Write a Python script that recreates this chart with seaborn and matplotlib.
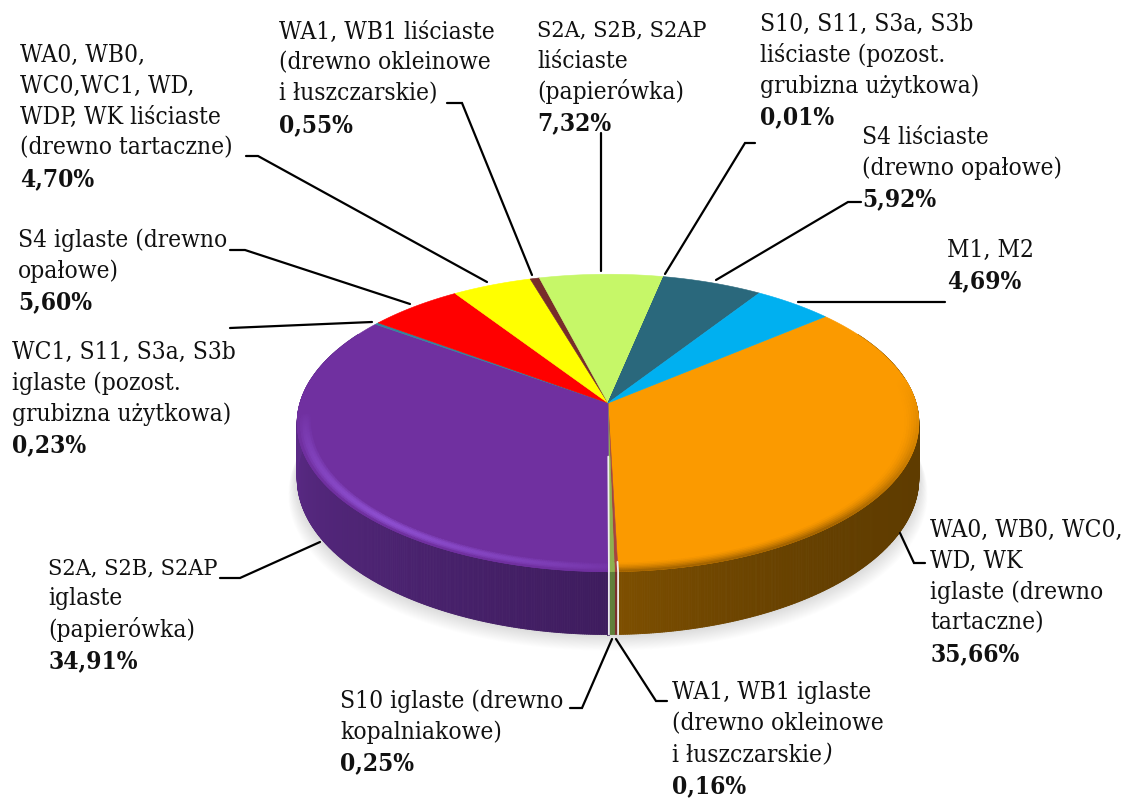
import matplotlib
matplotlib.use("Agg")
import matplotlib.pyplot as plt
import numpy as np
import seaborn as sns
from matplotlib.collections import PolyCollection
from matplotlib.colors import to_rgb

# slices, clockwise from the big orange one
values = [35.66, 0.16, 0.25, 34.91, 0.23, 5.60, 4.70, 0.55, 7.32, 0.01, 5.92, 4.69]
value_labels = ["35,66%", "0,16%", "0,25%", "34,91%", "0,23%", "5,60%",
                "4,70%", "0,55%", "7,32%", "0,01%", "5,92%", "4,69%"]
names = [
    ["WA0, WB0, WC0,", "WD, WK", "iglaste (drewno", "tartaczne)"],
    ["WA1, WB1 iglaste", "(drewno okleinowe", "i łuszczarskie"],
    ["S10 iglaste (drewno", "kopalniakowe)"],
    ["S2A, S2B, S2AP", "iglaste", "(papierówka)"],
    ["WC1, S11, S3a, S3b", "iglaste (pozost.", "grubizna użytkowa)"],
    ["S4 iglaste (drewno", "opałowe)"],
    ["WA0, WB0,", "WC0,WC1, WD,", "WDP, WK liściaste", "(drewno tartaczne)"],
    ["WA1, WB1 liściaste", "(drewno okleinowe", "i łuszczarskie)"],
    ["S2A, S2B, S2AP", "liściaste", "(papierówka)"],
    ["S10, S11, S3a, S3b", "liściaste (pozost.", "grubizna użytkowa)"],
    ["S4 liściaste", "(drewno opałowe)"],
    ["M1, M2"],
]
colors = ["#fb9a00", "#a5443f", "#8eb050", "#7030a0", "#31859c", "#ff0000",
          "#ffff00", "#772c2a", "#c6f768", "#2b6477", "#2a687c", "#00b0f0"]
wall_right = ["#5f3c00", "#7a302c", "#5f7f3a", "#3e1c5e", "#20606f", "#900000",
              "#909000", "#401515", "#70903a", "#1a3c48", "#1a3c48", "#006a90"]
wall_left = ["#7f5000", "#7a302c", "#5f7f3a", "#5c2b88", "#20606f", "#900000",
             "#909000", "#401515", "#70903a", "#1a3c48", "#1a3c48", "#006a90"]
bevel = ["#a56500", "#a5443f", "#8eb050", "#8f50d2", "#31859c", "#ff0000",
         "#ffff00", "#772c2a", "#c6f768", "#2b6477", "#2a687c", "#00b0f0"]

# pie geometry in pixels
cx, cy = 608, 403
rx, ry = 308, 146
persp = 0.134
depth = 54.5
start_angle = 50.0

# label positions: left edge, centre of first line
label_xy = [(930, 530), (672, 693), (340, 701), (48, 568), (12, 352), (18, 240),
            (20, 55), (279, 32), (537, 30), (760, 24), (862, 137), (947, 250)]
line_pitch = 31

leaders = [
    [(900, 533), (914, 563), (925, 563)],
    [(616, 639), (656, 701), (667, 701)],
    [(612, 639), (582, 708), (570, 708)],
    [(320, 542), (240, 578), (220, 578)],
    [(372, 322), (230, 328)],
    [(410, 304), (245, 250), (230, 250)],
    [(487, 282), (258, 156), (246, 156)],
    [(532, 275), (462, 103), (447, 103)],
    [(601, 271), (601, 133)],
    [(665, 274), (745, 143), (755, 143)],
    [(716, 280), (848, 202), (861, 202)],
    [(798, 302), (945, 302)],
]


def project(r, theta, z=0.0):
    t = np.radians(theta)
    u, v = r * np.sin(t), r * np.cos(t)
    w = 1 + persp * v
    return cx + rx * u / w, cy + (-ry * v + depth * z) / w


def blend(a, b, f):
    a, b = np.array(to_rgb(a)), np.array(to_rgb(b))
    return tuple(a + (b - a) * f)


sns.set_theme(style="white")
plt.rcParams["font.family"] = ["DejaVu Serif"]

fig = plt.figure(figsize=(11.24, 7.98), dpi=100)
ax = fig.add_axes([0, 0, 1, 1])
ax.set_xlim(0, 1124)
ax.set_ylim(798, 0)
ax.axis("off")

edges = start_angle + np.concatenate([[0], np.cumsum(values)]) * 3.6

# soft shadow under the pie
ring = np.linspace(0, 360, 361)
for i in range(18, 0, -1):
    sx, sy = project(1.0, ring, 1.0)
    sx = cx + (sx - cx) * (1 + i * 0.0016)
    sy = sy + i * 0.9
    ax.fill(sx, sy, color="#000000", alpha=0.007, lw=0, zorder=1)

# side wall, one thin quad per step
wall_polys, wall_cols = [], []
for i, val in enumerate(values):
    n = max(2, int(val * 12))
    th = np.linspace(edges[i], edges[i + 1], n)
    for a, b in zip(th[:-1], th[1:]):
        mid = ((a + b) / 2) % 360
        if not 60 < mid < 300:
            continue
        pts = [project(1, a), project(1, b), project(1, b, 1), project(1, a, 1)]
        wall_polys.append(pts)
        if mid < 180:
            f = np.clip((mid - 90) / 90, 0, 1) ** 3
        else:
            f = np.clip((mid - 180) / 90, 0, 1)
        wall_cols.append(blend(wall_right[i], wall_left[i], f))
ax.add_collection(PolyCollection(wall_polys, facecolors=wall_cols, edgecolors=wall_cols,
                                 linewidths=0.6, zorder=2))

# top face
for i in range(len(values)):
    th = np.linspace(edges[i], edges[i + 1], max(2, int(values[i] * 6)))
    x, y = project(1, th)
    ax.fill(np.r_[cx, x], np.r_[cy, y], color=colors[i], lw=0.4, zorder=3)

# rounded edge between top face and wall
radii = np.linspace(0.95, 1.0, 8)
bev_polys, bev_cols = [], []
for i, val in enumerate(values):
    n = max(2, int(val * 12))
    th = np.linspace(edges[i], edges[i + 1], n)
    for a, b in zip(th[:-1], th[1:]):
        mid = ((a + b) / 2) % 360
        if not 80 < mid < 280:
            continue
        fade = np.clip(min(mid - 80, 280 - mid) / 60, 0, 1)
        if i == 3:
            # highlight peaks on the front left and dies out at both ends
            fade = np.clip(1 - abs(mid - 222) / 44, 0, 1) ** 0.6
        for j, (r0, r1) in enumerate(zip(radii[:-1], radii[1:])):
            s = j / (len(radii) - 2)
            if i == 3:
                g = np.sin(np.pi * s) * fade
            else:
                g = s ** 1.5 * fade
            col = blend(colors[i], bevel[i], g)
            pts = [project(r0, a), project(r0, b), project(r1, b), project(r1, a)]
            bev_polys.append(pts)
            bev_cols.append(col)
ax.add_collection(PolyCollection(bev_polys, facecolors=bev_cols, edgecolors=bev_cols,
                                 linewidths=0.5, zorder=4))

# white seams either side of the two thin slices
for a, r0 in [(edges[3], 0.35), (edges[1], 0.95)]:
    x0, y0 = project(r0, a)
    x1, y1 = project(1, a)
    x2, y2 = project(1, a, 1)
    ax.plot([x0, x1, x2], [y0, y1, y2], color="#eeeeee", lw=1.3, zorder=5)

# leader lines
for pts in leaders:
    xs, ys = zip(*pts)
    ax.plot(xs, ys, color="black", lw=1.6, solid_joinstyle="miter", zorder=6)

# labels
font_size = 17.6
wide_line_size = 16.8  # all-caps line runs wider in this font than in the source
text_style = dict(fontstretch="condensed", color="#111111", va="center", ha="left", zorder=7)
fig.canvas.draw()
for i, ((lx, ly), lines, val) in enumerate(zip(label_xy, names, value_labels)):
    for k, line in enumerate(lines):
        size = wide_line_size if line == "S2A, S2B, S2AP" else font_size
        t = ax.text(lx, ly + k * line_pitch, line, fontsize=size, **text_style)
    if i == 1:
        # the closing bracket of this one label is italic in the source
        box = t.get_window_extent(fig.canvas.get_renderer())
        ax.text(lx + box.width + 1, ly + 2 * line_pitch, ")", style="italic",
                fontsize=font_size, **text_style)
    ax.text(lx, ly + len(lines) * line_pitch, val, fontweight="bold",
            fontsize=font_size, **text_style)

fig.savefig("out.png", dpi=100)
